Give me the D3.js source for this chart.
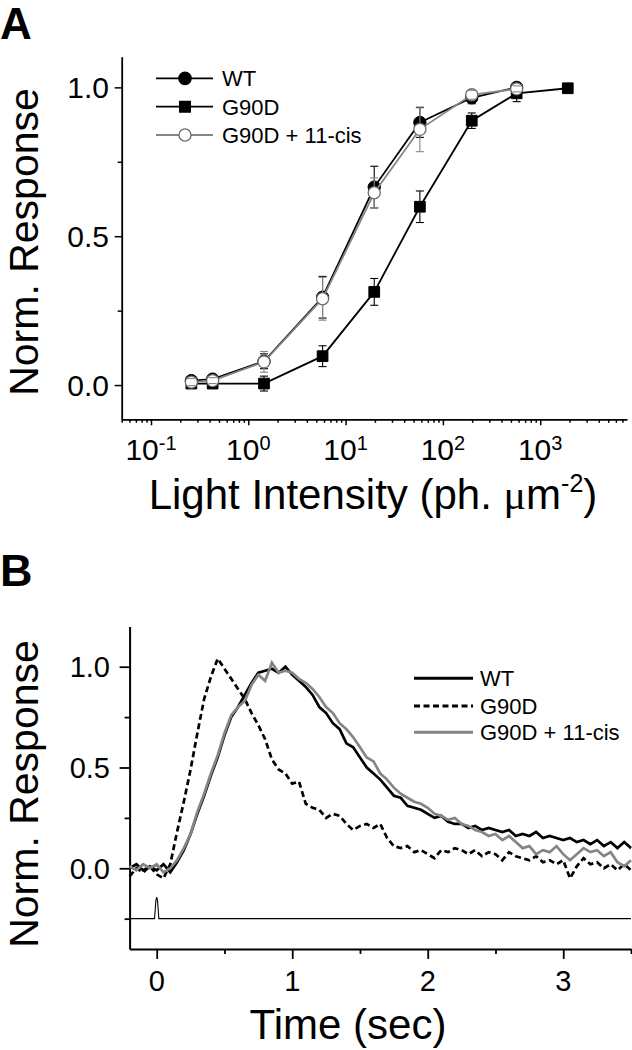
<!DOCTYPE html>
<html><head><meta charset="utf-8">
<script src="https://cdn.jsdelivr.net/npm/d3@7"></script>
<style>
html,body{margin:0;padding:0;background:#fff;}
svg{display:block;font-family:"Liberation Sans",Arial,Helvetica,sans-serif;}
</style></head>
<body><svg id="chart" width="632" height="1050"></svg>
<script>
// ---------- Panel A data ----------
const intensity = [0.26, 0.43, 1.45, 5.8, 19.7, 58, 198, 573, 1920];
const wtResp   = [0.015, 0.02, 0.08, 0.295, 0.665, 0.882, 0.965, 1.0];
const wtErr    = [0.01, 0.01, 0.025, 0.07, 0.07, 0.05, 0.02, 0.01];
const g90dResp = [0.005, 0.005, 0.005, 0.097, 0.313, 0.599, 0.888, 0.98, 0.997];
const g90dErr  = [0.01, 0.008, 0.025, 0.035, 0.045, 0.053, 0.026, 0.028, 0.005];
const cisResp  = [0.01, 0.015, 0.078, 0.29, 0.646, 0.859, 0.975, 0.995];
const cisErr   = [0.012, 0.01, 0.035, 0.072, 0.05, 0.075, 0.015, 0.01];
const seriesNames = ["WT", "G90D", "G90D + 11-cis"];
const yTicksA = [0, 0.5, 1.0];
const xDecadesA = [0.1, 1, 10, 100, 1000];
const xExpLabels = ["-1", "0", "1", "2", "3"];

// ---------- Panel B data (sampled every 0.05 s from -0.2 to 3.5 s) ----------
const tStart = -0.2, tStep = 0.05;
const wtTrace = [0.00,0.02,-0.01,0.01,-0.01,0.02,-0.02,0.03,0.09,0.17,
  0.27,0.36,0.46,0.55,0.66,0.75,0.80,0.86,0.92,0.97,
  0.98,0.99,0.97,1.00,0.96,0.93,0.90,0.86,0.80,0.77,
  0.72,0.69,0.62,0.60,0.55,0.50,0.47,0.44,0.40,0.36,
  0.35,0.31,0.30,0.29,0.27,0.25,0.26,0.23,0.22,0.22,
  0.20,0.21,0.19,0.20,0.19,0.18,0.19,0.16,0.17,0.16,
  0.18,0.15,0.16,0.15,0.14,0.15,0.13,0.14,0.12,0.14,
  0.11,0.13,0.10,0.13,0.10];
const g90dTrace = [-0.04,0.00,-0.02,0.01,-0.03,-0.05,0.02,0.18,0.33,0.49,
  0.67,0.84,0.95,1.04,0.99,0.94,0.89,0.84,0.77,0.71,
  0.64,0.54,0.49,0.47,0.42,0.43,0.32,0.30,0.29,0.25,
  0.27,0.26,0.22,0.19,0.21,0.22,0.20,0.22,0.15,0.11,
  0.10,0.11,0.08,0.09,0.07,0.05,0.09,0.08,0.10,0.09,
  0.07,0.09,0.06,0.08,0.07,0.04,0.08,0.06,0.05,0.04,
  0.06,0.03,0.04,0.02,0.04,-0.05,0.01,0.05,0.02,0.03,
  0.00,0.02,-0.01,0.02,-0.01];
const cisTrace = [0.01,-0.01,0.02,0.00,0.02,-0.02,0.00,0.04,0.10,0.17,
  0.28,0.37,0.47,0.56,0.67,0.76,0.80,0.83,0.91,0.96,
  0.93,1.02,0.97,0.98,0.97,0.94,0.92,0.89,0.85,0.80,
  0.77,0.72,0.69,0.65,0.60,0.55,0.53,0.47,0.44,0.40,
  0.37,0.35,0.33,0.32,0.30,0.27,0.26,0.24,0.25,0.22,
  0.21,0.19,0.18,0.16,0.17,0.14,0.16,0.13,0.10,0.11,
  0.07,0.09,0.08,0.11,0.07,0.04,0.07,0.10,0.08,0.09,
  0.06,0.08,0.03,0.01,0.04];
const stimT = [-0.2, -0.016, -0.006, 0, 0.006, 0.016, 3.5];
const stimV = [-0.25, -0.25, -0.16, -0.143, -0.16, -0.25, -0.25];
const xTicksB = [0, 1, 2, 3];
const xMinorB = [0.5, 1.5, 2.5, 3.5];
const yTicksB = [0, 0.5, 1.0];
const yMinorB = [-0.25, 0.25, 0.75];

const BLACK = "#000", GRAY = "#858585";
const svg = d3.select("#chart");

// ================= PANEL A =================
const xA = d3.scaleLog().domain([0.05, 7800]).range([121.7, 627]);
const yA = d3.scaleLinear().domain([-0.115, 1.103]).range([419.3, 56.7]);

svg.append("text").attr("x", 0).attr("y", 39).attr("font-size", 44).attr("font-weight", "bold").text("A");

// minor log ticks
const minorA = [];
for (let e = -2; e <= 3; e++) for (let k = 2; k <= 9; k++) {
  const v = k * Math.pow(10, e);
  if (v >= 0.05 && v <= 7800) minorA.push(v);
}
const gxA = svg.append("g").attr("transform", "translate(0,419.3)");
gxA.call(d3.axisBottom(xA).tickValues(xDecadesA).tickSize(6).tickSizeOuter(0).tickFormat(""));
gxA.append("g").call(d3.axisBottom(xA).tickValues(minorA).tickSize(3.5).tickSizeOuter(0).tickFormat(""))
   .select(".domain").remove();
const gyA = svg.append("g").attr("transform", "translate(121.7,0)");
gyA.call(d3.axisLeft(yA).tickValues(yTicksA).tickSize(7).tickSizeOuter(0).tickFormat(""));
gyA.append("g").call(d3.axisLeft(yA).tickValues([0.25, 0.75]).tickSize(4).tickSizeOuter(0).tickFormat(""))
   .select(".domain").remove();
svg.selectAll(".domain").attr("stroke-width", 1.8);
svg.selectAll(".tick line").attr("stroke-width", 1.5);

// y tick labels
svg.append("g").selectAll("text").data(yTicksA).join("text")
  .attr("x", 109).attr("y", d => yA(d) + 10.5).attr("text-anchor", "end")
  .attr("font-size", 30).text(d => d3.format(".1f")(d));
// x tick labels with exponents
const xl = svg.append("g").selectAll("text").data(xDecadesA).join("text")
  .attr("x", d => xA(d)).attr("y", 460).attr("text-anchor", "middle").attr("font-size", 30);
xl.append("tspan").text("10");
xl.append("tspan").attr("font-size", 20).attr("dy", -10).text((d, i) => xExpLabels[i]);

// axis titles
svg.append("text").attr("transform", "translate(37.5,242) rotate(-90)").attr("text-anchor", "middle")
  .attr("font-size", 41).text("Norm. Response");
const tA = svg.append("text").attr("x", 373).attr("y", 509).attr("text-anchor", "middle").attr("font-size", 42);
tA.append("tspan").text("Light Intensity (ph. ");
tA.append("tspan").attr("font-family", "'Liberation Serif','Times New Roman',serif").text("\u03BC");
tA.append("tspan").text("m");
tA.append("tspan").attr("font-size", 25).attr("dy", -17).text("-2");
tA.append("tspan").attr("dy", 17).text(")");

function drawSeries(vals, errs, color) {
  const pts = vals.map((v, i) => ({x: intensity[i], y: v, e: errs[i]}));
  svg.append("path").datum(pts)
    .attr("fill", "none").attr("stroke", color).attr("stroke-width", 1.8)
    .attr("d", d3.line().x(d => xA(d.x)).y(d => yA(d.y)));
  return pts;
}
function drawMarkers(pts, symType, size, fill, stroke, sw) {
  svg.append("g").selectAll("path").data(pts).join("path")
    .attr("transform", d => `translate(${xA(d.x)},${yA(d.y)})`)
    .attr("d", d3.symbol().type(symType).size(size))
    .attr("fill", fill).attr("stroke", stroke).attr("stroke-width", sw);
}
function drawErr(pts, color, r) {
  const g = svg.append("g").attr("stroke", color).attr("stroke-width", 1.1);
  pts.forEach(d => {
    const cx = xA(d.x), cy = yA(d.y);
    [1, -1].forEach(s => {
      const ye = yA(d.y + s * d.e);
      if (Math.abs(ye - cy) > r) g.append("line").attr("x1", cx).attr("x2", cx).attr("y1", cy - s * r).attr("y2", ye);
      g.append("line").attr("x1", cx - 4).attr("x2", cx + 4).attr("y1", ye).attr("y2", ye);
    });
  });
}
const ptsWT = drawSeries(wtResp, wtErr, BLACK);
drawMarkers(ptsWT, d3.symbolCircle, 120, BLACK, BLACK, 1);
drawErr(ptsWT, BLACK, 6);
const ptsG = drawSeries(g90dResp, g90dErr, BLACK);
drawMarkers(ptsG, d3.symbolSquare, 115, BLACK, BLACK, 1);
drawErr(ptsG, BLACK, 5.5);
const ptsC = drawSeries(cisResp, cisErr, GRAY);
drawMarkers(ptsC, d3.symbolCircle, 115, "#fff", "#6a6a6a", 1.3);
drawErr(ptsC, GRAY, 6);

// legend A
const legA = [
  {c: BLACK, s: d3.symbolCircle, f: BLACK, st: BLACK, sz: 120},
  {c: BLACK, s: d3.symbolSquare, f: BLACK, st: BLACK, sz: 115},
  {c: GRAY, s: d3.symbolCircle, f: "#fff", st: "#6a6a6a", sz: 115}
];
const legRowsA = [78.3, 106.7, 135];
legA.forEach((L, i) => {
  const y = legRowsA[i];
  svg.append("line").attr("x1", 156).attr("x2", 213).attr("y1", y).attr("y2", y)
    .attr("stroke", L.c).attr("stroke-width", 1.8);
  svg.append("path").attr("transform", `translate(185,${y})`).attr("d", d3.symbol().type(L.s).size(L.sz))
    .attr("fill", L.f).attr("stroke", L.st).attr("stroke-width", 1.3);
  svg.append("text").attr("x", 222).attr("y", y + 8).attr("font-size", 22).text(seriesNames[i]);
});

// ================= PANEL B =================
const xB = d3.scaleLinear().domain([-0.2, 3.5]).range([129.6, 631]);
const yB = d3.scaleLinear().domain([-0.4, 1.2]).range([948.9, 626.4]);
svg.append("text").attr("x", 0).attr("y", 586).attr("font-size", 45).attr("font-weight", "bold").text("B");

const gxB = svg.append("g").attr("transform", "translate(0,948.9)");
gxB.call(d3.axisBottom(xB).tickValues(xTicksB).tickSize(10).tickSizeOuter(0).tickFormat(""));
gxB.append("g").call(d3.axisBottom(xB).tickValues(xMinorB).tickSize(5).tickSizeOuter(0).tickFormat(""))
   .select(".domain").remove();
const gyB = svg.append("g").attr("transform", "translate(129.6,0)");
gyB.call(d3.axisLeft(yB).tickValues(yTicksB).tickSize(10).tickSizeOuter(0).tickFormat(""));
gyB.append("g").call(d3.axisLeft(yB).tickValues(yMinorB).tickSize(5).tickSizeOuter(0).tickFormat(""))
   .select(".domain").remove();
gxB.selectAll(".domain").attr("stroke-width", 2);
gyB.selectAll(".domain").attr("stroke-width", 2);
gxB.selectAll(".tick line").attr("stroke-width", 1.8);
gyB.selectAll(".tick line").attr("stroke-width", 1.8);

svg.append("g").selectAll("text").data(yTicksB).join("text")
  .attr("x", 110).attr("y", d => yB(d) + 10.5).attr("text-anchor", "end")
  .attr("font-size", 29).text(d => d3.format(".1f")(d));
svg.append("g").selectAll("text").data(xTicksB).join("text")
  .attr("x", d => xB(d)).attr("y", 991).attr("text-anchor", "middle")
  .attr("font-size", 29).text(d => d);

svg.append("text").attr("transform", "translate(37.5,794) rotate(-90)").attr("text-anchor", "middle")
  .attr("font-size", 41).text("Norm. Response");
svg.append("text").attr("x", 348).attr("y", 1039).attr("text-anchor", "middle")
  .attr("font-size", 42).text("Time (sec)");

const tGrid = wtTrace.map((_, i) => +(tStart + i * tStep).toFixed(3));
const lineB = d3.line().x(d => xB(d[0])).y(d => yB(d[1]));
// stimulus
svg.append("path").datum(stimT.map((t, i) => [t, stimV[i]]))
  .attr("fill", "none").attr("stroke", BLACK).attr("stroke-width", 1.1).attr("d", lineB);
// traces
svg.append("path").datum(tGrid.map((t, i) => [t, g90dTrace[i]]))
  .attr("fill", "none").attr("stroke", BLACK).attr("stroke-width", 2.7)
  .attr("stroke-dasharray", "6,3.5").attr("d", lineB);
svg.append("path").datum(tGrid.map((t, i) => [t, wtTrace[i]]))
  .attr("fill", "none").attr("stroke", BLACK).attr("stroke-width", 2.7).attr("d", lineB);
svg.append("path").datum(tGrid.map((t, i) => [t, cisTrace[i]]))
  .attr("fill", "none").attr("stroke", GRAY).attr("stroke-width", 2.7).attr("d", lineB);

// legend B
const legB = [
  {c: BLACK, dash: null}, {c: BLACK, dash: "6,3.5"}, {c: GRAY, dash: null}
];
const legRowsB = [678.3, 706, 732.3];
legB.forEach((L, i) => {
  const y = legRowsB[i];
  svg.append("line").attr("x1", 414).attr("x2", 473).attr("y1", y).attr("y2", y)
    .attr("stroke", L.c).attr("stroke-width", 3).attr("stroke-dasharray", L.dash);
  svg.append("text").attr("x", 480).attr("y", y + 8).attr("font-size", 22).text(seriesNames[i]);
});
</script></body></html>
